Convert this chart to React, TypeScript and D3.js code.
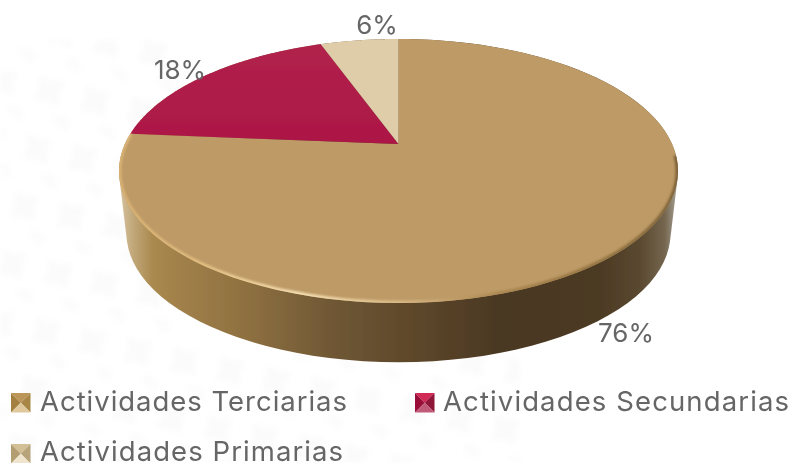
import { useMemo } from "react";
import * as d3 from "d3";

const categories = ["Actividades Terciarias", "Actividades Secundarias", "Actividades Primarias"];
const values = [76.3, 18.2, 5.5];
const valueLabels = ["76%", "18%", "6%"];
const sliceColors = ["#bd9a66", "url(#crimson)", "#dfcca9"];

const WIDTH = 792;
const HEIGHT = 463;

// perspective of the disc: the apex sits above the middle of the ellipse
const cx = 398.5;
const cy = 144;
const radiusX = 273.6;
const radiusY = 126.5;
const tilt = -0.2045;
const depth = 63.5;
const depthScale = 0.973;

const project = (angle: number, r = 1, lower = false): [number, number] => {
  const x = Math.sin(angle) * r;
  const y = -Math.cos(angle) * r;
  const w = 1 + tilt * y;
  const s = lower ? depthScale : 1;
  return [cx + (radiusX * s * x) / w, cy + (lower ? depth : 0) + (radiusY * s * y) / w];
};

const arcPoints = (start: number, end: number, lower = false) =>
  d3.range(0, 121).map((i) => project(start + ((end - start) * i) / 120, 1, lower));

const sideStops = [
  [122, "#d3bd98"],
  [134, "#c0a677"],
  [152, "#ab8a50"],
  [175, "#a2814a"],
  [250, "#8d6f40"],
  [330, "#705835"],
  [400, "#604a2c"],
  [500, "#4a3823"],
  [600, "#4c3a24"],
  [640, "#5a4930"],
  [665, "#75664f"],
  [677, "#a59f92"],
] as const;

const rimStops = [
  [119, "#d8b173"],
  [200, "#e2bd80"],
  [300, "#f5e0b4"],
  [400, "#d9b985"],
  [500, "#a98650"],
  [620, "#8f7040"],
  [678, "#7a6038"],
] as const;

const legendItems = [
  { x: 11, y: 393, textX: 40, baseline: 411, length: 307, faces: ["#bb9658", "#a3803f", "#a88645", "#dfc89c"] },
  { x: 415, y: 393, textX: 443, baseline: 411, length: 346, faces: ["#d02a55", "#9a1038", "#8e1238", "#c05a78"] },
  { x: 11, y: 444, textX: 40, baseline: 460.5, length: 303, faces: ["#d3bf96", "#b39e72", "#b8a47a", "#efe5cf"] },
];

const labelPositions = [
  { x: 626, y: 342 },
  { x: 180, y: 79 },
  { x: 377, y: 34 },
];

const line = d3.line();

export default function App() {
  const slices = useMemo(() => d3.pie<number>().sort(null)(values), []);

  const hull = useMemo(() => {
    const pts = [
      ...arcPoints(0, Math.PI * 2),
      ...arcPoints(0, Math.PI * 2, true),
    ];
    return d3.polygonHull(pts) as [number, number][];
  }, []);

  const topFace = line(arcPoints(0, Math.PI * 2)) + "Z";
  // only the near edge of the disc catches the bevel
  const rim = line(arcPoints((Math.PI * 95) / 180, slices[0].endAngle));

  return (
    <svg
      width={WIDTH}
      height={HEIGHT}
      style={{ position: "absolute", left: 0, top: 0, background: "#ffffff" }}
      fontFamily="Inter, 'Noto Sans', sans-serif"
    >
      <defs>
        <linearGradient id="side" gradientUnits="userSpaceOnUse" x1={119} x2={678} y1={0} y2={0}>
          {sideStops.map(([x, c]) => (
            <stop key={x} offset={(x - 119) / 559} stopColor={c} />
          ))}
        </linearGradient>
        <linearGradient id="rim" gradientUnits="userSpaceOnUse" x1={119} x2={678} y1={0} y2={0}>
          {rimStops.map(([x, c]) => (
            <stop key={x} offset={(x - 119) / 559} stopColor={c} />
          ))}
        </linearGradient>
        <linearGradient id="crimson" gradientUnits="userSpaceOnUse" x1={0} x2={0} y1={44} y2={144}>
          <stop offset={0} stopColor="#b1224c" />
          <stop offset={1} stopColor="#ac1746" />
        </linearGradient>
        <clipPath id="topClip">
          <path d={topFace} />
        </clipPath>
        <pattern id="damask" width={47} height={59} patternUnits="userSpaceOnUse" patternTransform="rotate(12)">
          <ellipse cx={20} cy={20} rx={17} ry={7} fill="#fbfbfb" transform="rotate(45 20 20)" />
          <ellipse cx={20} cy={20} rx={17} ry={7} fill="#fbfbfb" transform="rotate(-45 20 20)" />
          <ellipse cx={40} cy={48} rx={12} ry={6} fill="#fcfcfc" transform="rotate(20 40 48)" />
        </pattern>
        <filter id="soft" x="-5%" y="-5%" width="110%" height="110%">
          <feGaussianBlur stdDeviation="0.6" />
        </filter>
        <filter id="rimBlur" x="-5%" y="-5%" width="110%" height="110%">
          <feGaussianBlur stdDeviation="1.3" />
        </filter>
        <filter id="textSoft" x="-5%" y="-20%" width="110%" height="140%">
          <feGaussianBlur stdDeviation="0.35" />
        </filter>
        <filter id="bgBlur">
          <feGaussianBlur stdDeviation="3" />
        </filter>
      </defs>

      <g filter="url(#bgBlur)">
        <rect x={0} y={40} width={190} height={423} fill="url(#damask)" />
        <rect x={190} y={350} width={330} height={113} fill="url(#damask)" />
      </g>

      <g filter="url(#soft)">
        <path d={line(hull) + "Z"} fill="url(#side)" />
        {slices.map((s, i) => (
          <path
            key={categories[i]}
            d={line([[cx, cy], ...arcPoints(s.startAngle, s.endAngle)]) + "Z"}
            fill={sliceColors[i]}
          />
        ))}
        <g clipPath="url(#topClip)">
          <path d={rim ?? ""} fill="none" stroke="url(#rim)" strokeWidth={5} filter="url(#rimBlur)" />
        </g>
      </g>

      {slices.map((s, i) => (
        <text
          key={valueLabels[i]}
          x={labelPositions[i].x}
          y={labelPositions[i].y}
          textAnchor="middle"
          fontSize={26}
          fill="#666666"
          filter="url(#textSoft)"
        >
          {valueLabels[i]}
        </text>
      ))}

      {legendItems.map((item, i) => {
        const size = 19.5;
        const mx = item.x + size / 2;
        const my = item.y + size / 2;
        const a: [number, number] = [item.x, item.y];
        const b: [number, number] = [item.x + size, item.y];
        const c: [number, number] = [item.x + size, item.y + size];
        const d: [number, number] = [item.x, item.y + size];
        const m: [number, number] = [mx, my];
        const tris = [[a, b, m], [a, d, m], [b, c, m], [d, c, m]] as [number, number][][];
        return (
          <g key={categories[i]}>
            <g filter="url(#textSoft)">
              {tris.map((t, j) => (
                <path key={j} d={line(t) + "Z"} fill={item.faces[j]} />
              ))}
            </g>
            <text
              x={item.textX}
              y={item.baseline}
              fontSize={27.5}
              fill="#666666"
              textLength={item.length}
              lengthAdjust="spacing"
              filter="url(#textSoft)"
            >
              {categories[i]}
            </text>
          </g>
        );
      })}
    </svg>
  );
}
